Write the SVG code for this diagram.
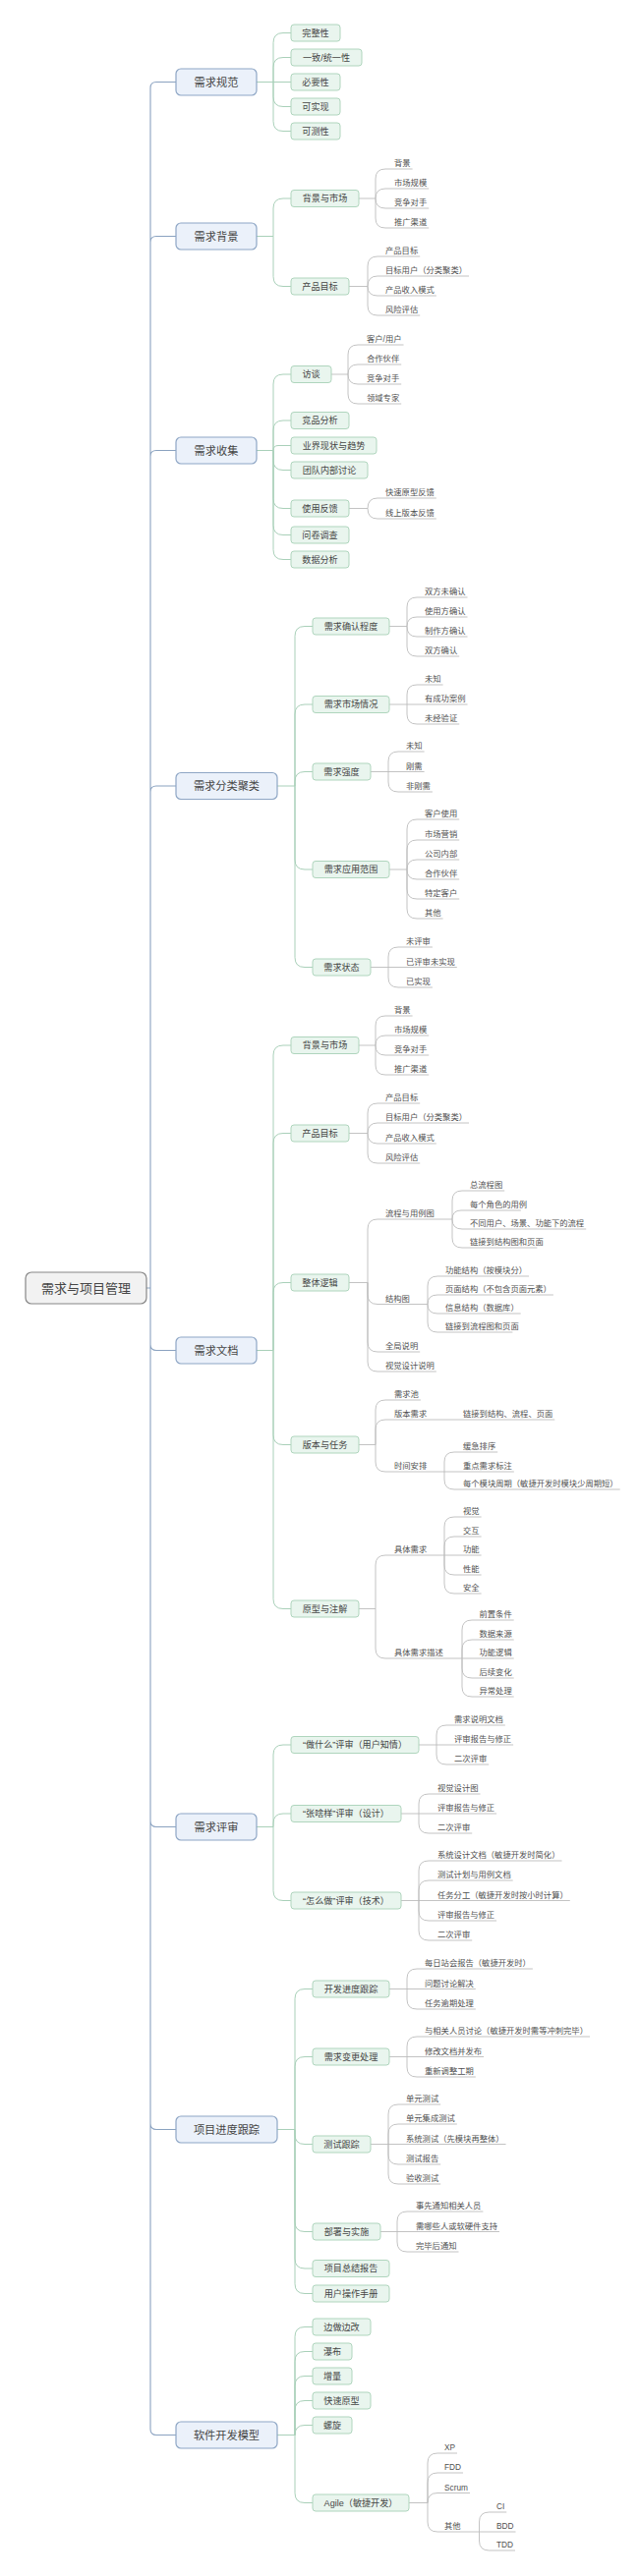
<svg xmlns="http://www.w3.org/2000/svg" width="650" height="2622" viewBox="0 0 650 2622">
<style>
text{font-family:"Liberation Sans","Noto Sans CJK SC",sans-serif;fill:#454545}
.n0 rect{fill:#f2f2f2;stroke:#868686;stroke-width:1.2}
.n0 text{font-size:13px;text-anchor:middle}
.n1 rect{fill:#ebf1fa;stroke:#8ea6c5;stroke-width:1.2}
.n1 text{font-size:11.2px;text-anchor:middle}
.n2 rect{fill:#e9f5ee;stroke:#afd5bd;stroke-width:1}
.n2 text{font-size:9.1px;text-anchor:middle}
.lf text{font-size:8.3px;fill:#505050}
.c1{fill:none;stroke:#8aa2c0;stroke-width:1.1}
.c2{fill:none;stroke:#a9d0b9;stroke-width:1}
.c3{fill:none;stroke:#bcbcbc;stroke-width:0.9}
</style>
<rect width="650" height="2622" fill="#ffffff"/>
<g id="connectors">
<path class="c1" d="M149 1311H153M153 1311V89.5Q153 83.5 159 83.5H179M153 1311V246.5Q153 240.5 159 240.5H179M153 1311V464.5Q153 458.5 159 458.5H179M153 1311V806Q153 800 159 800H179M153 1311V1368.5Q153 1374.5 159 1374.5H179M153 1311V1853.5Q153 1859.5 159 1859.5H179M153 1311V2161.5Q153 2167.5 159 2167.5H179M153 1311V2472.5Q153 2478.5 159 2478.5H179"/>
<path class="c2" d="M261 83.5H296M278 83.5V43.5Q278 33.5 288 33.5H296M278 83.5V68.5Q278 58.5 288 58.5H296M278 83.5V98.5Q278 108.5 288 108.5H296M278 83.5V123.5Q278 133.5 288 133.5H296"/>
<path class="c2" d="M261 240.5H278M278 240.5V212Q278 202 288 202H296M278 240.5V281.5Q278 291.5 288 291.5H296"/>
<path class="c2" d="M261 458.5H278M278 458.5V391Q278 381 288 381H296M278 458.5V438Q278 428 288 428H296M278 458.5Q278 453.5 283 453.5H296M278 458.5V468.5Q278 478.5 288 478.5H296M278 458.5V507.5Q278 517.5 288 517.5H296M278 458.5V534.5Q278 544.5 288 544.5H296M278 458.5V559.5Q278 569.5 288 569.5H296"/>
<path class="c2" d="M282 800H300M300 800V647.5Q300 637.5 310 637.5H318M300 800V727Q300 717 310 717H318M300 800V795.5Q300 785.5 310 785.5H318M300 800V875Q300 885 310 885H318M300 800V974.5Q300 984.5 310 984.5H318"/>
<path class="c2" d="M261 1374.5H278M278 1374.5V1074Q278 1064 288 1064H296M278 1374.5V1163.5Q278 1153.5 288 1153.5H296M278 1374.5V1315.5Q278 1305.5 288 1305.5H296M278 1374.5V1460.5Q278 1470.5 288 1470.5H296M278 1374.5V1627.5Q278 1637.5 288 1637.5H296"/>
<path class="c2" d="M261 1859.5H278M278 1859.5V1786Q278 1776 288 1776H296M278 1859.5V1856Q278 1846 288 1846H296M278 1859.5V1924.5Q278 1934.5 288 1934.5H296"/>
<path class="c2" d="M282 2167.5H300M300 2167.5V2034.5Q300 2024.5 310 2024.5H318M300 2167.5V2103.5Q300 2093.5 310 2093.5H318M300 2167.5V2172.5Q300 2182.5 310 2182.5H318M300 2167.5V2261.5Q300 2271.5 310 2271.5H318M300 2167.5V2299Q300 2309 310 2309H318M300 2167.5V2324.5Q300 2334.5 310 2334.5H318"/>
<path class="c2" d="M282 2478.5H300M300 2478.5V2378.5Q300 2368.5 310 2368.5H318M300 2478.5V2403.5Q300 2393.5 310 2393.5H318M300 2478.5V2428.5Q300 2418.5 310 2418.5H318M300 2478.5V2453.5Q300 2443.5 310 2443.5H318M300 2478.5Q300 2468.5 310 2468.5H318M300 2478.5V2537.5Q300 2547.5 310 2547.5H318"/>
<path class="c3" d="M365 202H382M382 202V182Q382 172 392 172H419.6M382 202Q382 192 392 192H436.2M382 202Q382 212 392 212H436.2M382 202V222Q382 232 392 232H436.2"/>
<path class="c3" d="M355 291.5H374M374 291.5V271Q374 261 384 261H427.2M374 291.5Q374 281 384 281H477M374 291.5Q374 301 384 301H443.8M374 291.5V311Q374 321 384 321H427.2"/>
<path class="c3" d="M337 381H354M354 381V361Q354 351 364 351H410.5M354 381Q354 371 364 371H408.2M354 381Q354 391 364 391H408.2M354 381V401Q354 411 364 411H408.2"/>
<path class="c3" d="M355 517.5H374M374 517.5Q374 507 384 507H443.8M374 517.5Q374 528 384 528H443.8"/>
<path class="c3" d="M396 637.5H414M414 637.5V618Q414 608 424 608H475.5M414 637.5Q414 628 424 628H475.5M414 637.5Q414 648 424 648H475.5M414 637.5V658Q414 668 424 668H467.2"/>
<path class="c3" d="M396 717H475.5M414 717V707Q414 697 424 697H450.6M414 717V727Q414 737 424 737H467.2"/>
<path class="c3" d="M377 785.5H431.6M395 785.5V775Q395 765 405 765H431.6M395 785.5V796Q395 806 405 806H439.9"/>
<path class="c3" d="M396 885H414M414 885V844Q414 834 424 834H467.2M414 885V865Q414 855 424 855H467.2M414 885Q414 875 424 875H467.2M414 885Q414 895 424 895H467.2M414 885V905Q414 915 424 915H467.2M414 885V925Q414 935 424 935H450.6"/>
<path class="c3" d="M377 984.5H464.8M395 984.5V974Q395 964 405 964H439.9M395 984.5V995Q395 1005 405 1005H439.9"/>
<path class="c3" d="M365 1064H382M382 1064V1044Q382 1034 392 1034H419.6M382 1064Q382 1054 392 1054H436.2M382 1064Q382 1074 392 1074H436.2M382 1064V1084Q382 1094 392 1094H436.2"/>
<path class="c3" d="M355 1153.5H374M374 1153.5V1133Q374 1123 384 1123H427.2M374 1153.5Q374 1143 384 1143H477M374 1153.5Q374 1164 384 1164H443.8M374 1153.5V1174Q374 1184 384 1184H427.2"/>
<path class="c3" d="M355 1305.5H374M374 1305.5V1251Q374 1241 384 1241H460M374 1305.5V1317.5Q374 1327.5 384 1327.5H435M374 1305.5V1366Q374 1376 384 1376H427.2M374 1305.5V1386Q374 1396 384 1396H443.8"/>
<path class="c3" d="M460 1241V1222Q460 1212 470 1212H513.2M460 1241Q460 1232 469 1232H529.8M460 1241Q460 1251 470 1251H596.2M460 1241V1260Q460 1270 470 1270H546.4"/>
<path class="c3" d="M435 1327.5V1309Q435 1299 445 1299H538M435 1327.5Q435 1318 445 1318H562.9M435 1327.5Q435 1337 445 1337H529.7M435 1327.5V1346Q435 1356 445 1356H521.4"/>
<path class="c3" d="M365 1470.5H382M382 1470.5V1435Q382 1425 392 1425H427.9M382 1470.5V1455Q382 1445 392 1445H564.3M382 1470.5V1488Q382 1498 392 1498H452"/>
<path class="c3" d="M452 1498V1488Q452 1478 462 1478H506.2M452 1498H522.8M452 1498V1506Q452 1516 462 1516H630.7"/>
<path class="c3" d="M365 1637.5H382M382 1637.5V1593Q382 1583 392 1583H452M382 1637.5V1678Q382 1688 392 1688H470"/>
<path class="c3" d="M452 1583V1554Q452 1544 462 1544H489.6M452 1583V1574Q452 1564 462 1564H489.6M452 1583H489.6M452 1583V1593Q452 1603 462 1603H489.6M452 1583V1612Q452 1622 462 1622H489.6"/>
<path class="c3" d="M470 1688V1659Q470 1649 480 1649H522.7M470 1688V1679Q470 1669 480 1669H522.7M470 1688H522.7M470 1688V1698Q470 1708 480 1708H522.7M470 1688V1717Q470 1727 480 1727H522.7"/>
<path class="c3" d="M426 1776H522.1M444 1776V1766Q444 1756 454 1756H513.8M444 1776V1786Q444 1796 454 1796H497.2"/>
<path class="c3" d="M408 1846H505.1M426 1846V1836Q426 1826 436 1826H488.5M426 1846V1856Q426 1866 436 1866H480.2"/>
<path class="c3" d="M408 1934.5H579.8M426 1934.5V1904Q426 1894 436 1894H571.5M426 1934.5V1924Q426 1914 436 1914H521.7M426 1934.5V1945Q426 1955 436 1955H505.1M426 1934.5V1965Q426 1975 436 1975H480.2"/>
<path class="c3" d="M396 2024.5H483.8M414 2024.5V2014Q414 2004 424 2004H541.9M414 2024.5V2035Q414 2045 424 2045H483.8"/>
<path class="c3" d="M396 2093.5H492.1M414 2093.5V2083Q414 2073 424 2073H600M414 2093.5V2104Q414 2114 424 2114H483.8"/>
<path class="c3" d="M377 2182.5H514.6M395 2182.5V2152Q395 2142 405 2142H448.2M395 2182.5V2172Q395 2162 405 2162H464.8M395 2182.5V2193Q395 2203 405 2203H448.2M395 2182.5V2213Q395 2223 405 2223H448.2"/>
<path class="c3" d="M387 2271.5H508M404 2271.5V2261Q404 2251 414 2251H491.4M404 2271.5V2282Q404 2292 414 2292H466.5"/>
<path class="c3" d="M416 2547.5H435M435 2547.5V2507Q435 2497 445 2497H465M435 2547.5V2527Q435 2517 445 2517H471M435 2547.5Q435 2537.5 445 2537.5H478M435 2547.5V2567Q435 2577 445 2577H487.5"/>
<path class="c3" d="M487.5 2577V2567Q487.5 2557 497.5 2557H515.3M487.5 2577H524.5M487.5 2577V2586Q487.5 2596 497.5 2596H524"/>
</g>
<g id="root" class="n0"><rect x="26" y="1295" width="123" height="32" rx="6"/><text x="87.5" y="1315.8">需求与项目管理</text></g>
<g id="t1" class="n1"><rect x="179" y="70" width="82" height="27" rx="5"/><text x="220" y="87.5">需求规范</text></g>
<g id="t2" class="n1"><rect x="179" y="227" width="82" height="27" rx="5"/><text x="220" y="244.5">需求背景</text></g>
<g id="t3" class="n1"><rect x="179" y="445" width="82" height="27" rx="5"/><text x="220" y="462.5">需求收集</text></g>
<g id="t4" class="n1"><rect x="179" y="786.5" width="103" height="27" rx="5"/><text x="230.5" y="804">需求分类聚类</text></g>
<g id="t5" class="n1"><rect x="179" y="1361" width="82" height="27" rx="5"/><text x="220" y="1378.5">需求文档</text></g>
<g id="t6" class="n1"><rect x="179" y="1846" width="82" height="27" rx="5"/><text x="220" y="1863.5">需求评审</text></g>
<g id="t7" class="n1"><rect x="179" y="2154" width="103" height="27" rx="5"/><text x="230.5" y="2171.5">项目进度跟踪</text></g>
<g id="t8" class="n1"><rect x="179" y="2465" width="103" height="27" rx="5"/><text x="230.5" y="2482.5">软件开发模型</text></g>
<g id="t1a" class="n2"><rect x="296" y="25" width="50" height="17" rx="3"/><text x="321" y="36.8">完整性</text></g>
<g id="t1b" class="n2"><rect x="296" y="50" width="72" height="17" rx="3"/><text x="332" y="61.8">一致/统一性</text></g>
<g id="t1c" class="n2"><rect x="296" y="75" width="50" height="17" rx="3"/><text x="321" y="86.8">必要性</text></g>
<g id="t1d" class="n2"><rect x="296" y="100" width="50" height="17" rx="3"/><text x="321" y="111.8">可实现</text></g>
<g id="t1e" class="n2"><rect x="296" y="125" width="50" height="17" rx="3"/><text x="321" y="136.8">可测性</text></g>
<g id="t2a" class="n2"><rect x="296" y="193.5" width="69" height="17" rx="3"/><text x="330.5" y="205.3">背景与市场</text></g>
<g id="t2b" class="n2"><rect x="296" y="283" width="59" height="17" rx="3"/><text x="325.5" y="294.8">产品目标</text></g>
<g id="t3a" class="n2"><rect x="296" y="372.5" width="41" height="17" rx="3"/><text x="316.5" y="384.3">访谈</text></g>
<g id="t3b" class="n2"><rect x="296" y="419.5" width="59" height="17" rx="3"/><text x="325.5" y="431.3">竞品分析</text></g>
<g id="t3c" class="n2"><rect x="296" y="445" width="87" height="17" rx="3"/><text x="339.5" y="456.8">业界现状与趋势</text></g>
<g id="t3d" class="n2"><rect x="296" y="470" width="78" height="17" rx="3"/><text x="335" y="481.8">团队内部讨论</text></g>
<g id="t3e" class="n2"><rect x="296" y="509" width="59" height="17" rx="3"/><text x="325.5" y="520.8">使用反馈</text></g>
<g id="t3f" class="n2"><rect x="296" y="536" width="59" height="17" rx="3"/><text x="325.5" y="547.8">问卷调查</text></g>
<g id="t3g" class="n2"><rect x="296" y="561" width="59" height="17" rx="3"/><text x="325.5" y="572.8">数据分析</text></g>
<g id="t4a" class="n2"><rect x="318" y="629" width="78" height="17" rx="3"/><text x="357" y="640.8">需求确认程度</text></g>
<g id="t4b" class="n2"><rect x="318" y="708.5" width="78" height="17" rx="3"/><text x="357" y="720.3">需求市场情况</text></g>
<g id="t4c" class="n2"><rect x="318" y="777" width="59" height="17" rx="3"/><text x="347.5" y="788.8">需求强度</text></g>
<g id="t4d" class="n2"><rect x="318" y="876.5" width="78" height="17" rx="3"/><text x="357" y="888.3">需求应用范围</text></g>
<g id="t4e" class="n2"><rect x="318" y="976" width="59" height="17" rx="3"/><text x="347.5" y="987.8">需求状态</text></g>
<g id="t5a" class="n2"><rect x="296" y="1055.5" width="69" height="17" rx="3"/><text x="330.5" y="1067.3">背景与市场</text></g>
<g id="t5b" class="n2"><rect x="296" y="1145" width="59" height="17" rx="3"/><text x="325.5" y="1156.8">产品目标</text></g>
<g id="t5c" class="n2"><rect x="296" y="1297" width="59" height="17" rx="3"/><text x="325.5" y="1308.8">整体逻辑</text></g>
<g id="t5d" class="n2"><rect x="296" y="1462" width="69" height="17" rx="3"/><text x="330.5" y="1473.8">版本与任务</text></g>
<g id="t5e" class="n2"><rect x="296" y="1629" width="69" height="17" rx="3"/><text x="330.5" y="1640.8">原型与注解</text></g>
<g id="t6a" class="n2"><rect x="296" y="1767.5" width="130" height="17" rx="3"/><text x="361" y="1779.3">“做什么”评审（用户知情）</text></g>
<g id="t6b" class="n2"><rect x="296" y="1837.5" width="112" height="17" rx="3"/><text x="352" y="1849.3">“张啥样”评审（设计）</text></g>
<g id="t6c" class="n2"><rect x="296" y="1926" width="112" height="17" rx="3"/><text x="352" y="1937.8">“怎么做”评审（技术）</text></g>
<g id="t7a" class="n2"><rect x="318" y="2016" width="78" height="17" rx="3"/><text x="357" y="2027.8">开发进度跟踪</text></g>
<g id="t7b" class="n2"><rect x="318" y="2085" width="78" height="17" rx="3"/><text x="357" y="2096.8">需求变更处理</text></g>
<g id="t7c" class="n2"><rect x="318" y="2174" width="59" height="17" rx="3"/><text x="347.5" y="2185.8">测试跟踪</text></g>
<g id="t7d" class="n2"><rect x="318" y="2263" width="69" height="17" rx="3"/><text x="352.5" y="2274.8">部署与实施</text></g>
<g id="t7e" class="n2"><rect x="318" y="2300.5" width="78" height="17" rx="3"/><text x="357" y="2312.3">项目总结报告</text></g>
<g id="t7f" class="n2"><rect x="318" y="2326" width="78" height="17" rx="3"/><text x="357" y="2337.8">用户操作手册</text></g>
<g id="t8a" class="n2"><rect x="318" y="2360" width="59" height="17" rx="3"/><text x="347.5" y="2371.8">边做边改</text></g>
<g id="t8b" class="n2"><rect x="318" y="2385" width="40" height="17" rx="3"/><text x="338" y="2396.8">瀑布</text></g>
<g id="t8c" class="n2"><rect x="318" y="2410" width="40" height="17" rx="3"/><text x="338" y="2421.8">增量</text></g>
<g id="t8d" class="n2"><rect x="318" y="2435" width="59" height="17" rx="3"/><text x="347.5" y="2446.8">快速原型</text></g>
<g id="t8e" class="n2"><rect x="318" y="2460" width="40" height="17" rx="3"/><text x="338" y="2471.8">螺旋</text></g>
<g id="t8f" class="n2"><rect x="318" y="2539" width="98" height="17" rx="3"/><text x="367" y="2550.8">Agile（敏捷开发）</text></g>
<g class="lf">
<g id="l2a1"><text x="401" y="169">背景</text></g>
<g id="l2a2"><text x="401" y="189">市场规模</text></g>
<g id="l2a3"><text x="401" y="209">竞争对手</text></g>
<g id="l2a4"><text x="401" y="229">推广渠道</text></g>
<g id="l2b1"><text x="392" y="258">产品目标</text></g>
<g id="l2b2"><text x="392" y="278">目标用户（分类聚类）</text></g>
<g id="l2b3"><text x="392" y="298">产品收入模式</text></g>
<g id="l2b4"><text x="392" y="318">风险评估</text></g>
<g id="l3a1"><text x="373" y="348">客户/用户</text></g>
<g id="l3a2"><text x="373" y="368">合作伙伴</text></g>
<g id="l3a3"><text x="373" y="388">竞争对手</text></g>
<g id="l3a4"><text x="373" y="408">领域专家</text></g>
<g id="l3e1"><text x="392" y="504">快速原型反馈</text></g>
<g id="l3e2"><text x="392" y="525">线上版本反馈</text></g>
<g id="l4a1"><text x="432" y="605">双方未确认</text></g>
<g id="l4a2"><text x="432" y="625">使用方确认</text></g>
<g id="l4a3"><text x="432" y="645">制作方确认</text></g>
<g id="l4a4"><text x="432" y="665">双方确认</text></g>
<g id="l4b1"><text x="432" y="694">未知</text></g>
<g id="l4b2"><text x="432" y="714">有成功案例</text></g>
<g id="l4b3"><text x="432" y="734">未经验证</text></g>
<g id="l4c1"><text x="413" y="762">未知</text></g>
<g id="l4c2"><text x="413" y="782.5">刚需</text></g>
<g id="l4c3"><text x="413" y="803">非刚需</text></g>
<g id="l4d1"><text x="432" y="831">客户使用</text></g>
<g id="l4d2"><text x="432" y="852">市场营销</text></g>
<g id="l4d3"><text x="432" y="872">公司内部</text></g>
<g id="l4d4"><text x="432" y="892">合作伙伴</text></g>
<g id="l4d5"><text x="432" y="912">特定客户</text></g>
<g id="l4d6"><text x="432" y="932">其他</text></g>
<g id="l4e1"><text x="413" y="961">未评审</text></g>
<g id="l4e2"><text x="413" y="981.5">已评审未实现</text></g>
<g id="l4e3"><text x="413" y="1002">已实现</text></g>
<g id="l5a1"><text x="401" y="1031">背景</text></g>
<g id="l5a2"><text x="401" y="1051">市场规模</text></g>
<g id="l5a3"><text x="401" y="1071">竞争对手</text></g>
<g id="l5a4"><text x="401" y="1091">推广渠道</text></g>
<g id="l5b1"><text x="392" y="1120">产品目标</text></g>
<g id="l5b2"><text x="392" y="1140">目标用户（分类聚类）</text></g>
<g id="l5b3"><text x="392" y="1161">产品收入模式</text></g>
<g id="l5b4"><text x="392" y="1181">风险评估</text></g>
<g id="l5c1"><text x="392" y="1238">流程与用例图</text></g>
<g id="l5c2"><text x="392" y="1324.5">结构图</text></g>
<g id="l5c3"><text x="392" y="1373">全局说明</text></g>
<g id="l5c4"><text x="392" y="1393">视觉设计说明</text></g>
<g id="l5c1a"><text x="478" y="1209">总流程图</text></g>
<g id="l5c1b"><text x="478" y="1229">每个角色的用例</text></g>
<g id="l5c1c"><text x="478" y="1248">不同用户、场景、功能下的流程</text></g>
<g id="l5c1d"><text x="478" y="1267">链接到结构图和页面</text></g>
<g id="l5c2a"><text x="453" y="1296">功能结构（按模块分）</text></g>
<g id="l5c2b"><text x="453" y="1315">页面结构（不包含页面元素）</text></g>
<g id="l5c2c"><text x="453" y="1334">信息结构（数据库）</text></g>
<g id="l5c2d"><text x="453" y="1353">链接到流程图和页面</text></g>
<g id="l5d1"><text x="401" y="1422">需求池</text></g>
<g id="l5d2"><text x="401" y="1442">版本需求</text></g>
<g id="l5d3"><text x="401" y="1495">时间安排</text></g>
<g id="l5d2a"><text x="471" y="1442">链接到结构、流程、页面</text></g>
<g id="l5d3a"><text x="471" y="1475">缓急排序</text></g>
<g id="l5d3b"><text x="471" y="1495">重点需求标注</text></g>
<g id="l5d3c"><text x="471" y="1513">每个模块周期（敏捷开发时模块少周期短）</text></g>
<g id="l5e1"><text x="401" y="1580">具体需求</text></g>
<g id="l5e2"><text x="401" y="1685">具体需求描述</text></g>
<g id="l5e1a"><text x="471" y="1541">视觉</text></g>
<g id="l5e1b"><text x="471" y="1561">交互</text></g>
<g id="l5e1c"><text x="471" y="1580">功能</text></g>
<g id="l5e1d"><text x="471" y="1600">性能</text></g>
<g id="l5e1e"><text x="471" y="1619">安全</text></g>
<g id="l5e2a"><text x="487.5" y="1646">前置条件</text></g>
<g id="l5e2b"><text x="487.5" y="1666">数据来源</text></g>
<g id="l5e2c"><text x="487.5" y="1685">功能逻辑</text></g>
<g id="l5e2d"><text x="487.5" y="1705">后续变化</text></g>
<g id="l5e2e"><text x="487.5" y="1724">异常处理</text></g>
<g id="l6a1"><text x="462" y="1753">需求说明文档</text></g>
<g id="l6a2"><text x="462" y="1773">评审报告与修正</text></g>
<g id="l6a3"><text x="462" y="1793">二次评审</text></g>
<g id="l6b1"><text x="445" y="1823">视觉设计图</text></g>
<g id="l6b2"><text x="445" y="1843">评审报告与修正</text></g>
<g id="l6b3"><text x="445" y="1863">二次评审</text></g>
<g id="l6c1"><text x="445" y="1891">系统设计文档（敏捷开发时简化）</text></g>
<g id="l6c2"><text x="445" y="1911">测试计划与用例文档</text></g>
<g id="l6c3"><text x="445" y="1931.5">任务分工（敏捷开发时按小时计算）</text></g>
<g id="l6c4"><text x="445" y="1952">评审报告与修正</text></g>
<g id="l6c5"><text x="445" y="1972">二次评审</text></g>
<g id="l7a1"><text x="432" y="2001">每日站会报告（敏捷开发时）</text></g>
<g id="l7a2"><text x="432" y="2021.5">问题讨论解决</text></g>
<g id="l7a3"><text x="432" y="2042">任务逾期处理</text></g>
<g id="l7b1"><text x="432" y="2070">与相关人员讨论（敏捷开发时需等冲刺完毕）</text></g>
<g id="l7b2"><text x="432" y="2090.5">修改文档并发布</text></g>
<g id="l7b3"><text x="432" y="2111">重新调整工期</text></g>
<g id="l7c1"><text x="413" y="2139">单元测试</text></g>
<g id="l7c2"><text x="413" y="2159">单元集成测试</text></g>
<g id="l7c3"><text x="413" y="2179.5">系统测试（先模块再整体）</text></g>
<g id="l7c4"><text x="413" y="2200">测试报告</text></g>
<g id="l7c5"><text x="413" y="2220">验收测试</text></g>
<g id="l7d1"><text x="423" y="2248">事先通知相关人员</text></g>
<g id="l7d2"><text x="423" y="2268.5">需哪些人或软硬件支持</text></g>
<g id="l7d3"><text x="423" y="2289">完毕后通知</text></g>
<g id="l8f1"><text x="452" y="2494">XP</text></g>
<g id="l8f2"><text x="452" y="2514">FDD</text></g>
<g id="l8f3"><text x="452" y="2534.5">Scrum</text></g>
<g id="l8f4"><text x="452" y="2574">其他</text></g>
<g id="l8f4a"><text x="505" y="2554">CI</text></g>
<g id="l8f4b"><text x="505" y="2574">BDD</text></g>
<g id="l8f4c"><text x="505" y="2593">TDD</text></g>
</g>
</svg>
